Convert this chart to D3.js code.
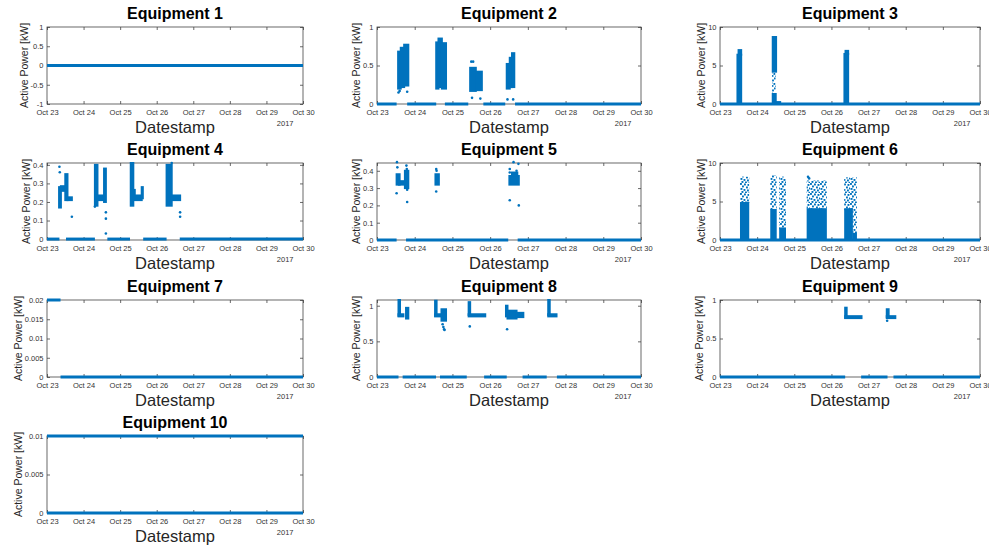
<!DOCTYPE html>
<html>
<head>
<meta charset="utf-8">
<script src="https://cdn.jsdelivr.net/npm/d3@7"></script>
<style>
  body { margin: 0; background: #fff; }
  svg { display: block; font-family: "Liberation Sans", Arial, sans-serif; }
  .tick text { font-size: 7.5px; fill: #333; }
</style>
</head>
<body>
<svg id="chart" width="989" height="551"></svg>
<script>
// Equipment readings, Oct 23 - Oct 30 2017. Times are fractional October days.
const titles = ["Equipment 1", "Equipment 2", "Equipment 3", "Equipment 4", "Equipment 5",
  "Equipment 6", "Equipment 7", "Equipment 8", "Equipment 9", "Equipment 10"];

const yDomains = [[-1, 1], [0, 1], [0, 10], [-0.005, 0.41], [0, 0.445],
  [0, 10], [0, 0.02], [0, 1.08], [0, 1], [0, 0.01]];

const yTickValues = [
  [-1, -0.5, 0, 0.5, 1], [0, 0.5, 1], [0, 5, 10], [0, 0.1, 0.2, 0.3, 0.4], [0, 0.1, 0.2, 0.3, 0.4],
  [0, 5, 10], [0, 0.005, 0.01, 0.015, 0.02], [0, 0.5, 1], [0, 0.5, 1], [0, 0.005, 0.01]
];

const xTickDays = [23, 24, 25, 26, 27, 28, 29, 30];

// steady readings: [fromDay, toDay, kW]
const runs = [
  [[23, 30, 0]],
  [[23, 23.52, 0], [23.80, 24.57, 0], [24.80, 25.42, 0], [25.82, 26.40, 0], [26.66, 30, 0]],
  [[23, 30, 0]],
  [[23, 23.34, 0], [23.52, 24.31, 0], [24.65, 25.27, 0], [25.63, 26.27, 0], [26.63, 30, 0]],
  [[23, 23.52, 0], [23.77, 26.48, 0], [26.73, 30, 0]],
  [[23, 30, 0]],
  [[23, 23.37, 0.02], [23.37, 30, 0]],
  [[23, 23.57, 0], [23.68, 24.565, 0], [24.67, 25.38, 0], [25.84, 26.44, 0], [26.86, 27.50, 0], [27.77, 30, 0]],
  [[23, 26.37, 0], [26.80, 27.51, 0], [27.67, 30, 0]],
  [[23, 30, 0.01], [23, 30, 0]]
];

// densely filled clusters of readings: [fromDay, toDay, lowKW, highKW]
const denseClusters = [
  [],
  [[23.56, 23.63, 0.20, 0.68], [23.63, 23.72, 0.22, 0.73], [23.72, 23.83, 0.24, 0.77],
   [24.57, 24.63, 0.20, 0.80], [24.63, 24.72, 0.22, 0.85], [24.72, 24.83, 0.20, 0.79],
   [25.47, 25.62, 0.17, 0.47], [25.64, 25.78, 0.18, 0.42],
   [26.44, 26.52, 0.20, 0.52], [26.52, 26.58, 0.22, 0.60], [26.58, 26.64, 0.22, 0.66]],
  [[23.47, 23.57, 0, 6.4], [23.50, 23.57, 6.4, 7.0],
   [24.42, 24.51, 4.2, 8.7], [24.42, 24.50, 0, 1.3], [24.50, 24.62, 0, 0.25],
   [26.35, 26.45, 0, 6.5], [26.38, 26.45, 6.5, 6.9]],
  [[23.33, 23.38, 0.17, 0.28], [23.38, 23.50, 0.26, 0.285], [23.50, 23.56, 0.21, 0.35], [23.56, 23.68, 0.21, 0.225],
   [24.31, 24.38, 0.18, 0.40], [24.38, 24.56, 0.21, 0.235], [24.56, 24.61, 0.20, 0.38],
   [25.29, 25.36, 0.18, 0.41], [25.36, 25.40, 0.24, 0.265], [25.36, 25.59, 0.21, 0.235], [25.59, 25.62, 0.22, 0.28],
   [26.27, 26.41, 0.18, 0.40], [26.41, 26.64, 0.21, 0.235]],
  [[23.52, 23.60, 0.32, 0.38], [23.58, 23.74, 0.32, 0.34], [23.74, 23.83, 0.30, 0.40],
   [24.55, 24.64, 0.32, 0.38],
   [26.51, 26.76, 0.32, 0.37], [26.58, 26.72, 0.37, 0.39]],
  [[23.565, 23.76, 0, 4.8], [24.38, 24.50, 0, 3.9], [24.62, 24.75, 0, 1.5],
   [25.36, 25.85, 0, 4.0], [26.37, 26.55, 0, 4.0], [26.59, 26.66, 0, 0.8]],
  [],
  [[23.57, 23.61, 0.86, 1.08], [23.57, 23.70, 0.85, 0.88], [23.77, 23.83, 0.82, 0.97],
   [24.54, 24.58, 0.86, 1.07], [24.54, 24.71, 0.85, 0.88], [24.71, 24.83, 0.79, 0.95],
   [25.43, 25.47, 0.87, 1.05], [25.43, 25.87, 0.85, 0.88],
   [26.42, 26.46, 0.85, 1.0], [26.46, 26.70, 0.82, 0.93], [26.70, 26.88, 0.84, 0.90],
   [27.54, 27.58, 0.87, 1.08], [27.54, 27.76, 0.85, 0.88]],
  [[26.37, 26.41, 0.77, 0.90], [26.37, 26.81, 0.765, 0.79],
   [27.49, 27.54, 0.78, 0.88], [27.49, 27.72, 0.765, 0.79]],
  []
];

// loosely scattered clusters: [fromDay, toDay, lowKW, highKW]
const sparseClusters = [
  [], [],
  [[24.43, 24.47, 1.3, 4.2]],
  [], [],
  [[23.565, 23.76, 4.8, 8.1], [24.38, 24.50, 3.9, 8.3], [24.62, 24.75, 1.5, 8.1],
   [25.36, 25.85, 4.0, 7.6], [26.37, 26.55, 4.0, 8.0], [26.59, 26.66, 0.8, 8.0]],
  [], [], [], []
];

// single outlying readings: [day, kW]
const outliers = [
  [],
  [[23.57, 0.15], [23.60, 0.17], [23.80, 0.16], [25.50, 0.55], [25.55, 0.55], [25.52, 0.08],
   [25.74, 0.07], [26.46, 0.06], [26.61, 0.06]],
  [],
  [[23.34, 0.39], [23.35, 0.36], [23.68, 0.12], [24.61, 0.144], [24.61, 0.11], [24.61, 0.03],
   [24.31, 0.175], [26.64, 0.144], [26.64, 0.12], [26.41, 0.41]],
  [[23.53, 0.45], [23.54, 0.42], [23.52, 0.27], [23.78, 0.43], [23.79, 0.41], [23.80, 0.29], [23.80, 0.22],
   [24.57, 0.41], [24.58, 0.40], [24.57, 0.28],
   [26.52, 0.41], [26.52, 0.39], [26.52, 0.23], [26.62, 0.45], [26.75, 0.44], [26.76, 0.20], [26.70, 0.40]],
  [[25.37, 8.2], [25.40, 8.0]],
  [],
  [[24.74, 0.74], [24.76, 0.70], [24.78, 0.67], [24.79, 0.66], [25.46, 0.71], [26.45, 0.67]],
  [[27.50, 0.73]],
  []
];

const blue = "#0072BD";
const colLeft = [47, 377, 720], colRight = [303, 641, 980];
const rowTop = [27, 163, 300, 436], plotH = 77;

const toDate = d => new Date(2017, 9, 1, 0, 0, 0, 0).getTime() + (d - 1) * 864e5;

const svg = d3.select("#chart");

// speckled fill for the loosely scattered clusters (fixed, irregular tile)
const speckle = svg.append("defs").append("pattern")
  .attr("id", "speckle")
  .attr("patternUnits", "userSpaceOnUse")
  .attr("width", 10).attr("height", 10);
[[0, 0], [4, 0.5], [7.5, 1], [2, 2.5], [6, 3.5], [9, 4.5], [0.5, 5], [3.5, 6],
 [7, 6.5], [1.5, 8], [5, 8.5], [8.5, 8.8]].forEach(p => {
  speckle.append("rect")
    .attr("x", p[0]).attr("y", p[1])
    .attr("width", 1.9).attr("height", 1.9)
    .attr("fill", blue);
});

titles.forEach((title, i) => {
  const col = i % 3, row = Math.floor(i / 3);
  const left = colLeft[col], right = colRight[col];
  const top = rowTop[row];
  const w = right - left;

  const x = d3.scaleTime()
    .domain([toDate(23), toDate(30)])
    .range([0, w]);
  const y = d3.scaleLinear()
    .domain(yDomains[i])
    .range([plotH, 0]);

  const g = svg.append("g").attr("transform", `translate(${left},${top})`);

  // axes (ticks point inwards, MATLAB style)
  g.append("g")
    .attr("transform", `translate(0,${plotH})`)
    .call(d3.axisBottom(x)
      .tickValues(xTickDays.map(toDate))
      .tickFormat(d3.timeFormat("%b %d"))
      .tickSize(-3).tickPadding(6));
  g.append("g")
    .call(d3.axisTop(x).tickValues(xTickDays.map(toDate)).tickFormat("").tickSize(-3));
  const ya = g.append("g")
    .call(d3.axisLeft(y).tickValues(yTickValues[i]).tickFormat(d => String(d)).tickSize(-3).tickPadding(3.5));
  g.append("g")
    .attr("transform", `translate(${w},0)`)
    .call(d3.axisRight(y).tickValues(yTickValues[i]).tickFormat("").tickSize(-3));
  g.selectAll(".domain").remove();
  g.selectAll(".tick line").attr("stroke", "#444").attr("stroke-width", 0.8);

  g.append("rect")
    .attr("x", 0).attr("y", 0).attr("width", w).attr("height", plotH)
    .attr("fill", "none").attr("stroke", "#444").attr("stroke-width", 0.8);

  // readings
  g.selectAll("line.run")
    .data(runs[i])
    .enter()
    .append("line")
    .attr("class", "run")
    .attr("x1", d => x(toDate(d[0])))
    .attr("x2", d => x(toDate(d[1])))
    .attr("y1", d => y(d[2]))
    .attr("y2", d => y(d[2]))
    .attr("stroke", blue)
    .attr("stroke-width", 3);

  g.selectAll("rect.sparse")
    .data(sparseClusters[i])
    .enter()
    .append("rect")
    .attr("class", "sparse")
    .attr("x", d => x(toDate(d[0])) - 1)
    .attr("y", d => y(d[3]) - 1)
    .attr("width", d => x(toDate(d[1])) - x(toDate(d[0])) + 2)
    .attr("height", d => y(d[2]) - y(d[3]) + 2)
    .attr("fill", "url(#speckle)");

  g.selectAll("rect.dense")
    .data(denseClusters[i])
    .enter()
    .append("rect")
    .attr("class", "dense")
    .attr("x", d => x(toDate(d[0])) - 1)
    .attr("y", d => y(d[3]) - 1)
    .attr("width", d => x(toDate(d[1])) - x(toDate(d[0])) + 2)
    .attr("height", d => y(d[2]) - y(d[3]) + 2)
    .attr("fill", blue);

  g.selectAll("circle.pt")
    .data(outliers[i])
    .enter()
    .append("circle")
    .attr("class", "pt")
    .attr("cx", d => x(toDate(d[0])))
    .attr("cy", d => y(d[1]))
    .attr("r", 1.3)
    .attr("fill", blue);

  // labels
  g.append("text")
    .attr("x", w / 2).attr("y", -8)
    .attr("text-anchor", "middle")
    .attr("font-size", 16).attr("font-weight", "bold")
    .attr("fill", "#000")
    .text(title);

  g.append("text")
    .attr("x", w / 2).attr("y", plotH + 29)
    .attr("text-anchor", "middle")
    .attr("font-size", 16.5)
    .attr("fill", "#262626")
    .text("Datestamp");

  g.append("text")
    .attr("x", w - 9.5).attr("y", plotH + 22)
    .attr("text-anchor", "end")
    .attr("font-size", 7.5)
    .attr("fill", "#333")
    .text("2017");

  let maxW = 0;
  ya.selectAll("text").each(function () { maxW = Math.max(maxW, this.getBBox().width); });
  const labelX = -3.5 - maxW - 3;
  g.append("text")
    .attr("transform", `translate(${labelX},${plotH / 2}) rotate(-90)`)
    .attr("text-anchor", "middle")
    .attr("font-size", 10.5)
    .attr("fill", "#262626")
    .text("Active Power [kW]");
});
</script>
</body>
</html>
